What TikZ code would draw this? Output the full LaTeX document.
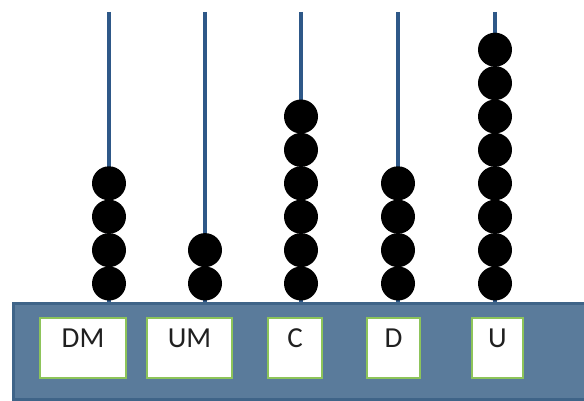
\documentclass[tikz,border=0pt]{standalone}
\usepackage{fontspec}
\setmainfont{Carlito}
\definecolor{basefill}{HTML}{5A7B9B}
\definecolor{basedraw}{HTML}{3F6488}
\definecolor{rodcol}{HTML}{2E5888}
\definecolor{boxgreen}{HTML}{8DC45A}
\definecolor{txt}{HTML}{202020}
\begin{document}
\begin{tikzpicture}[x=1pt,y=-1pt,
  rod/.style={draw=rodcol,line width=4pt},
  bead/.style={circle,fill=black,minimum size=34pt,inner sep=0pt},
  labelbox/.style={draw=boxgreen,fill=white,line width=2pt,minimum height=60pt,inner sep=0pt,anchor=north},
  labeltext/.style={font=\fontsize{29}{31}\selectfont,text=txt,anchor=center,inner sep=0pt}]
\useasboundingbox (0,0) rectangle (584,401);
\node[draw=basedraw,fill=basefill,line width=2.5pt,minimum width=580pt,minimum height=96pt,inner sep=0pt,anchor=north west] (base) at (12,302) {};
% rods
\foreach \n/\x in {dm/109,um/205,c/301,d/398,u/495}{
  \coordinate (top\n) at (\x,12);
  \coordinate (bot\n) at (\x,302);
  \draw[rod] (top\n) -- (bot\n);
}
% beads
\foreach \n/\x/\k in {dm/109/4,um/205/2,c/301/6,d/398/4,u/495/8}{
  \foreach \i in {1,...,\k}{
    \node[bead] (b\n\i) at (\x,{300-16.5-33.4*(\i-1)}) {};
  }
}
% label boxes
\node[labelbox,minimum width=86pt] (boxdm) at (83,317) {};
\node[labelbox,minimum width=85pt] (boxum) at (189.5,317) {};
\node[labelbox,minimum width=54pt] (boxc) at (295,317) {};
\node[labelbox,minimum width=53pt] (boxd) at (393.5,317) {};
\node[labelbox,minimum width=51pt] (boxu) at (497.5,317) {};
\node[labeltext] (tdm) at (83,338) {DM};
\node[labeltext] (tum) at (189.5,338) {UM};
\node[labeltext] (tc) at (295,338) {C};
\node[labeltext] (td) at (393.5,338) {D};
\node[labeltext] (tu) at (497.5,338) {U};
\end{tikzpicture}
\end{document}
